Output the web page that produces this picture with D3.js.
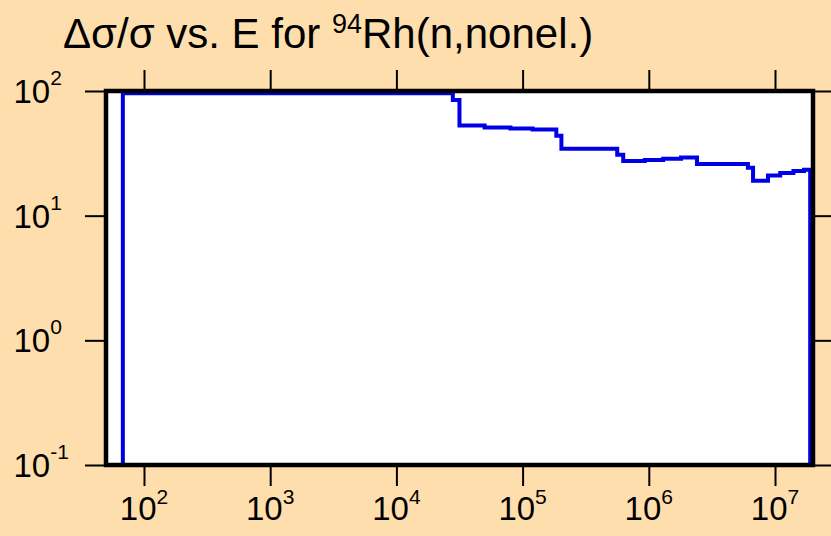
<!DOCTYPE html>
<html><head><meta charset="utf-8">
<script src="https://cdn.jsdelivr.net/npm/d3@7"></script>
<style>
html,body{margin:0;padding:0;background:#FFDEAD;}
svg{display:block;font-family:"Liberation Sans",Arial,Helvetica,sans-serif;}
</style></head>
<body>
<svg id="chart" width="831" height="536"></svg>
<script>
// Step data: energy (eV) where each level starts, and relative uncertainty (%)
const energies = [68, 68, 2.8e4, 3.16e4, 5e4, 8e4, 1.2e5, 1.85e5, 2.03e5, 5.62e5, 6.27e5, 9.3e5, 1.3e6, 1.8e6, 2.41e6, 6.1e6, 6.7e6, 8.8e6, 1.1e7, 1.4e7, 1.7e7, 1.9e7, 1.9e7];
const values   = [0.01, 96, 84.7, 52.8, 51, 50, 49, 43.7, 34.4, 30.8, 27.5, 28, 28.6, 29.3, 26, 24.2, 19.1, 21, 22, 22.8, 23.3, 23.3, 0.01];
const xTicks = [1e2, 1e3, 1e4, 1e5, 1e6, 1e7];
const xTickExp = ["2", "3", "4", "5", "6", "7"];
const yTicks = [1e2, 1e1, 1e0, 1e-1];
const yTickExp = ["2", "1", "0", "-1"];
const titleMain = "\u0394\u03c3/\u03c3 vs. E for ";
const titleSup = "94";
const titleRest = "Rh(n,nonel.)";

const svg = d3.select("#chart");
const L = 106, R = 813, T = 91, B = 465;
const x = d3.scaleLog().domain([50, 2e7]).range([L, R]);
const y = d3.scaleLog().domain([0.1, 100]).range([B, T]);

svg.append("rect").attr("width", 831).attr("height", 536).attr("fill", "#FFDEAD");
svg.append("rect").attr("x", L).attr("y", T).attr("width", R - L).attr("height", B - T).attr("fill", "#fff");

svg.append("clipPath").attr("id", "clip").append("rect")
  .attr("x", L).attr("y", T).attr("width", R - L).attr("height", B - T);

const pts = energies.map((e, i) => [e, values[i]]);
const line = d3.line().x(d => x(d[0])).y(d => y(d[1])).curve(d3.curveStepAfter);
svg.append("path").datum(pts).attr("clip-path", "url(#clip)")
  .attr("d", line).attr("fill", "none").attr("stroke", "#0000e6").attr("stroke-width", 4);

// axes (ticks only)
const tickLen = 21;
function styleAxis(g) {
  g.select(".domain").remove();
  g.selectAll(".tick line").attr("stroke", "#000").attr("stroke-width", 2);
  g.selectAll(".tick text").remove();
}
svg.append("g").attr("transform", `translate(0,${B})`).call(d3.axisBottom(x).tickValues(xTicks).tickSize(tickLen)).call(styleAxis);
svg.append("g").attr("transform", `translate(0,${T})`).call(d3.axisTop(x).tickValues(xTicks).tickSize(tickLen)).call(styleAxis);
svg.append("g").attr("transform", `translate(${L},0)`).call(d3.axisLeft(y).tickValues(yTicks).tickSize(tickLen)).call(styleAxis);
svg.append("g").attr("transform", `translate(${R},0)`).call(d3.axisRight(y).tickValues(yTicks).tickSize(tickLen)).call(styleAxis);

// frame
svg.append("rect").attr("x", L).attr("y", T).attr("width", R - L).attr("height", B - T)
  .attr("fill", "none").attr("stroke", "#000").attr("stroke-width", 4.5);

// bottom labels
xTicks.forEach((v, i) => {
  const t = svg.append("text").attr("x", x(v)).attr("y", 520).attr("text-anchor", "middle")
    .attr("font-size", 33).attr("fill", "#000");
  t.append("tspan").text("10");
  t.append("tspan").attr("dy", -16).attr("font-size", 21).text(xTickExp[i]);
});
// left labels
yTicks.forEach((v, i) => {
  const t = svg.append("text").attr("x", 13.5).attr("y", y(v) + 12)
    .attr("font-size", 33).attr("fill", "#000");
  t.append("tspan").text("10");
  t.append("tspan").attr("dy", -18).attr("font-size", 21).text(yTickExp[i]);
});

// title
const tt = svg.append("text").attr("x", 63).attr("y", 48).attr("font-size", 42).attr("fill", "#000");
tt.append("tspan").text(titleMain);
tt.append("tspan").attr("dy", -15).attr("font-size", 27).text(titleSup);
tt.append("tspan").attr("dy", 15).text(titleRest);
</script>
</body></html>
